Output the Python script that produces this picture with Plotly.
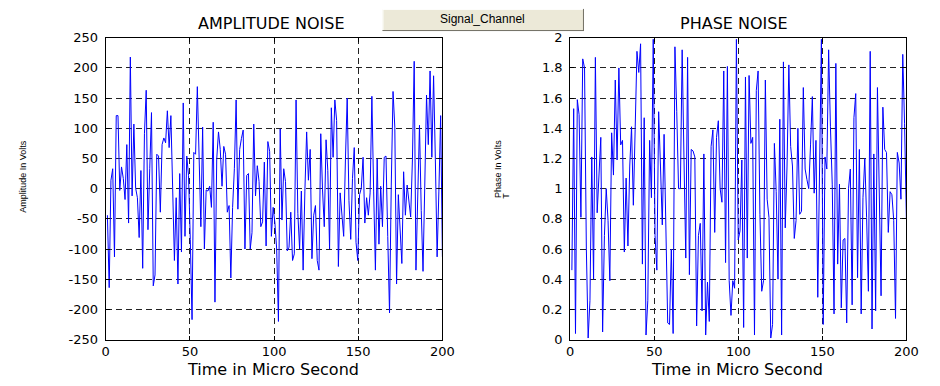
import numpy as np
import plotly.graph_objects as go

# ---------------- data ----------------
amplitude_noise = [
    -44, -164, 14, 33, -113, 121, 121, -3, 36, 17, -18, 73, -57, 218, -12, 107, 1, -15, -81, 30,
    -132, 91, 163, -68, 33, 126, -161, -143, 57, 54, -39, 73, 84, 76, 129, 68, 121, 1, -119, -15,
    -158, 25, -105, 142, -79, 54, 22, -84, -217, 60, 57, 169, 49, -63, 102, -100, -2, -4, 4, -31,
    110, -188, 49, 94, 65, 4, 70, 57, -39, -28, -148, -31, 33, 147,
    -34, 65, 83, 97, -100, 22, 25, -100, -73, 107, -12, 38, 12, -63, -55, 44, -95, 78, 62, -79,
    -31, -57, -100, -220, 99, -52, 33, 12, -103, -97, -39, -119, -108, 147, -41, -100, -4, -135, -4, 94,
    14, 65, -116, -44, -28, -119, -135, 91, -2, -63, 81, 30, -100, 134, 52, 147, 113, -129, -7, -41,
    -79, 49, 150, -20, -84, 17, 68, -89, -119, -10, 1, 52, -57, -15, -44, -7,
    153, -4, -135, 49, -92, 4, -63, 52, 54, -79, -206, 6, 161, 102, -158, -10, -79, -124, 28, -44,
    6, -26, -47, 49, 211, -135, -4, 105, -36, -137, 6, 155, 73, 195, 52, 187, 49, -113, -4, 121, -113,
]

phase_noise = [
    0.46, 1.53, 0.04, 1.59, 1.49, 0.81, 1.86, 1.80, 0.60, 0.01, 0.26, 1.21, 0.40, 1.87, 0.84, 1.07,
    1.34, 0.05, 0.69, 1.00, 0.79, 0.39, 1.37, 1.09, 1.72, 1.19, 1.80, 1.29, 1.32, 0.58, 1.07, 0.62,
    1.15, 1.41, 0.89, 1.39, 1.91, 1.77, 1.96, 0.50, 1.47, 0.03, 0.26, 1.32, 0.94, 1.99, 0.69, 0.46,
    1.51, 1.15, 0.76, 1.36, 0.77, 0.11, 0.10, 0.60, 0.04, 1.94, 1.51, 1.00, 1.00, 1.92, 1.20, 0.54,
    1.87, 0.43, 1.26,
    1.25, 1.21, 0.09, 0.69, 0.77, 0.19, 1.23, 0.03, 0.38, 0.12, 1.28, 1.39, 0.71, 1.34, 1.45, 1.00,
    0.91, 1.78, 0.51, 1.81, 0.39, 0.16, 0.39, 0.34, 1.99, 0.66, 0.72, 1.19, 0.08, 1.74, 0.54, 1.75,
    1.30, 1.34, 0.03, 1.65, 1.78, 0.83, 0.32, 0.39, 1.72, 0.93, 0.81, 0.01, 0.10, 1.30, 0.98, 0.40,
    1.46, 0.03, 1.84, 0.74, 1.15, 1.82, 1.28, 1.15, 0.67, 0.79, 1.40, 0.83, 0.85, 1.67, 1.13, 1.06,
    1.00, 1.29, 1.61,
    0.97, 1.32, 0.28, 1.20, 1.99, 0.10, 1.21, 1.13, 1.92, 1.41, 1.03, 0.17, 1.83, 0.50, 1.03, 0.21,
    0.66, 0.67, 0.11, 1.00, 1.13, 0.23, 1.47, 1.63, 0.41, 1.26, 0.17, 0.94, 1.20, 0.81, 0.32, 1.91,
    0.07, 1.23, 0.19, 1.67, 0.87, 0.29, 1.54, 1.26, 1.24, 0.71, 0.98, 0.96, 0.79, 0.14, 1.24, 1.17,
    0.93, 1.89, 1.43, 0.80,
]

time_start, time_end = 1, 200
x_ticks = [0, 50, 100, 150, 200]
amp_ticks = [-250, -200, -150, -100, -50, 0, 50, 100, 150, 200, 250]
amp_tick_labels = [str(v) for v in amp_ticks]
phase_ticks = [0, 0.2, 0.4, 0.6, 0.8, 1.0, 1.2, 1.4, 1.6, 1.8, 2.0]
phase_tick_labels = ["0", "0.2", "0.4", "0.6", "0.8", "1", "1.2", "1.4", "1.6", "1.8", "2"]

title_left = "AMPLITUDE NOISE"
title_right = "PHASE NOISE"
x_label = "Time in Micro Second"
y_label_left = "Amplitude In Volts"
y_label_right = "Phase In Volts"
button_text = "Signal_Channel"

# sample times
t_amp = np.linspace(time_start, time_end, len(amplitude_noise))
t_phase = np.linspace(time_start, time_end, len(phase_noise))

W, H = 940, 386


def px(x):
    return x / W


def py(y):
    return (H - y) / H


fig = go.Figure()
fig.add_trace(go.Scatter(x=t_amp, y=amplitude_noise, mode="lines",
                         line=dict(color="#0000FF", width=1), xaxis="x", yaxis="y",
                         showlegend=False, hoverinfo="skip"))
fig.add_trace(go.Scatter(x=t_phase, y=phase_noise, mode="lines",
                         line=dict(color="#0000FF", width=1), xaxis="x2", yaxis="y2",
                         showlegend=False, hoverinfo="skip"))

tick_font = dict(family="DejaVu Sans", size=13, color="black")
common = dict(showline=True, linecolor="black", linewidth=1, mirror="ticks",
              ticks="inside", ticklen=4, tickcolor="black", tickwidth=1,
              showgrid=True, gridcolor="#222222", gridwidth=1, griddash="6px,4px",
              zeroline=False, tickfont=tick_font, fixedrange=True)

ydom = [py(346), py(32)]
fig.update_layout(
    width=W, height=H, autosize=False,
    margin=dict(l=0, r=0, t=0, b=0),
    paper_bgcolor="white", plot_bgcolor="white",
    xaxis=dict(domain=[px(103.5), px(446)], range=[0, 200], anchor="y",
               tickmode="array", tickvals=x_ticks, ticklabelstandoff=0, **common),
    yaxis=dict(domain=ydom, range=[-250, 250], anchor="x",
               tickmode="array", tickvals=amp_ticks, ticktext=amp_tick_labels,
               ticklabelstandoff=4, **common),
    xaxis2=dict(domain=[px(576), px(918)], range=[0, 200], anchor="y2",
                tickmode="array", tickvals=x_ticks, ticklabelstandoff=0, **common),
    yaxis2=dict(domain=ydom, range=[0, 2], anchor="x2",
                tickmode="array", tickvals=phase_ticks, ticktext=phase_tick_labels,
                ticklabelstandoff=4, **common),
)

ann = []
title_font = dict(family="DejaVu Sans", size=16, color="black")
ann.append(dict(text=title_left, x=px(272), y=py(17), xref="paper", yref="paper",
                showarrow=False, font=title_font, xanchor="center", yanchor="middle"))
ann.append(dict(text=title_right, x=px(743), y=py(17), xref="paper", yref="paper",
                showarrow=False, font=title_font, xanchor="center", yanchor="middle"))
label_font = dict(family="DejaVu Sans", size=16, color="black")
ann.append(dict(text=x_label, x=px(274), y=py(377), xref="paper", yref="paper",
                showarrow=False, font=label_font, xanchor="center", yanchor="middle"))
ann.append(dict(text=x_label, x=px(746), y=py(377), xref="paper", yref="paper",
                showarrow=False, font=label_font, xanchor="center", yanchor="middle"))
small_font = dict(family="Liberation Sans", size=9, color="black")
ann.append(dict(text=y_label_left, x=px(19), y=py(176), xref="paper", yref="paper",
                showarrow=False, font=small_font, textangle=-90,
                xanchor="center", yanchor="middle"))
ann.append(dict(text=y_label_right, x=px(503), y=py(168), xref="paper", yref="paper",
                showarrow=False, font=small_font, textangle=-90,
                xanchor="center", yanchor="middle"))
ann.append(dict(text="T", x=px(511), y=py(196), xref="paper", yref="paper",
                showarrow=False, font=small_font, textangle=-90,
                xanchor="center", yanchor="middle"))
# button
ann.append(dict(text=button_text, x=px(487), y=py(12), xref="paper", yref="paper",
                showarrow=False, font=dict(family="Liberation Sans", size=12, color="black"),
                xanchor="center", yanchor="middle"))
fig.update_layout(annotations=ann)

bx0, bx1, by0, by1 = 385, 590, 2, 25
shapes = [
    dict(type="rect", xref="paper", yref="paper", x0=px(bx0), x1=px(bx1), y0=py(by1), y1=py(by0),
         fillcolor="#ECE9D8", line=dict(width=0), layer="above"),
    dict(type="line", xref="paper", yref="paper", x0=px(bx0), x1=px(bx1), y0=py(by0 + 0.5), y1=py(by0 + 0.5),
         line=dict(color="#FFFFFF", width=1)),
    dict(type="line", xref="paper", yref="paper", x0=px(bx0 + 0.5), x1=px(bx0 + 0.5), y0=py(by0), y1=py(by1),
         line=dict(color="#FFFFFF", width=1)),
    dict(type="line", xref="paper", yref="paper", x0=px(bx0), x1=px(bx1), y0=py(by1 - 0.5), y1=py(by1 - 0.5),
         line=dict(color="#716F64", width=1)),
    dict(type="line", xref="paper", yref="paper", x0=px(bx1 - 0.5), x1=px(bx1 - 0.5), y0=py(by0), y1=py(by1),
         line=dict(color="#716F64", width=1)),
]
fig.update_layout(shapes=shapes)

fig.write_html("out.html")
